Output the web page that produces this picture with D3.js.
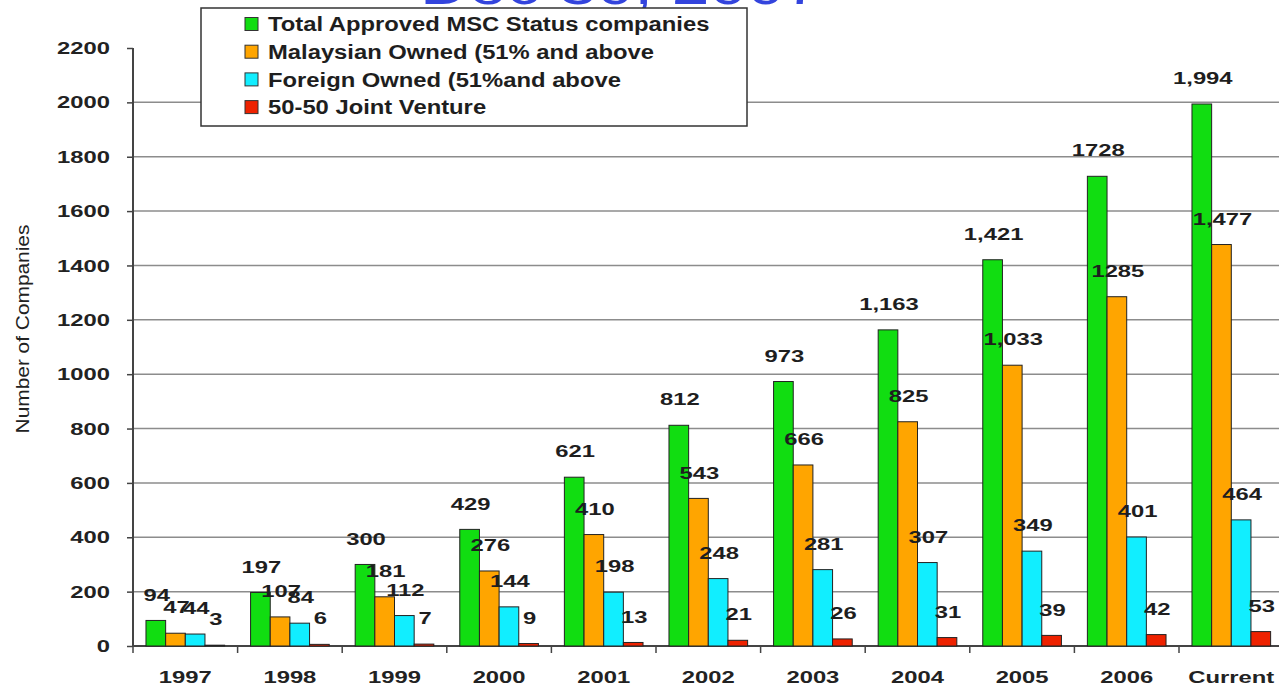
<!DOCTYPE html>
<html>
<head>
<meta charset="utf-8">
<script src="https://cdn.jsdelivr.net/npm/d3@7"></script>
<style>
  body { margin: 0; background: #fff; }
  svg { display: block; font-family: "Liberation Sans", Arial, sans-serif; }
</style>
</head>
<body>
<div id="chart-area"></div>
<script>
const categories = ["1997", "1998", "1999", "2000", "2001", "2002", "2003", "2004", "2005", "2006", "Current"]
const totalApproved = [94, 197, 300, 429, 621, 812, 973, 1163, 1421, 1728, 1994]
const malaysianOwned = [47, 107, 181, 276, 410, 543, 666, 825, 1033, 1285, 1477]
const foreignOwned = [44, 84, 112, 144, 198, 248, 281, 307, 349, 401, 464]
const jointVenture = [3, 6, 7, 9, 13, 21, 26, 31, 39, 42, 53]
const seriesNames = ["Total Approved MSC Status companies", "Malaysian Owned (51% and above",
  "Foreign Owned (51%and above", "50-50 Joint Venture"]
const yTicks = [0, 200, 400, 600, 800, 1000, 1200, 1400, 1600, 1800, 2000, 2200]
const noComma = [1728, 1285] // printed without thousands separator in the original

const COLORS = ["#11dd11", "#ffa500", "#11eeff", "#ee2200"]
const W = 1279, H = 691
const MARGIN = { LEFT: 133, TOP: 48, BOTTOM: 45 }
const BAND = 104.6

const series = [totalApproved, malaysianOwned, foreignOwned, jointVenture]

const svg = d3.select("#chart-area").append("svg")
  .attr("width", W)
  .attr("height", H)

// title, mostly cut off at the top edge of the picture
svg.append("text")
  .attr("transform", "translate(420,4) scale(1.3,1)")
  .attr("font-size", "52px")
  .attr("fill", "#3344dd")
  .text("Dec 30, 2007")

const x0 = d3.scaleBand()
  .domain(categories)
  .range([MARGIN.LEFT, MARGIN.LEFT + BAND * categories.length])
  .paddingInner(0)

const x1 = d3.scaleBand()
  .domain(d3.range(series.length))
  .range([0, x0.bandwidth()])
  .paddingOuter(0.66)
  .paddingInner(0)

const y = d3.scaleLinear()
  .domain([0, 2200])
  .range([H - MARGIN.BOTTOM, MARGIN.TOP])

// gridlines
svg.append("g").selectAll("line")
  .data(yTicks.filter(t => t > 0 && t < 2200))
  .enter().append("line")
  .attr("x1", MARGIN.LEFT).attr("x2", W)
  .attr("y1", d => y(d)).attr("y2", d => y(d))
  .attr("stroke", "#8c8c8c")
  .attr("stroke-width", 1.5)

// y axis
const yAxis = svg.append("g")
  .attr("transform", `translate(${MARGIN.LEFT},0)`)
  .call(d3.axisLeft(y).tickValues(yTicks).tickSize(6).tickPadding(0).tickFormat(""))
yAxis.select(".domain").attr("stroke", "#444").attr("stroke-width", 2).attr("d", `M0,${y(2200)}V${y(0)}`)
yAxis.selectAll(".tick line").attr("stroke", "#444").attr("stroke-width", 1.5)

svg.append("g").selectAll("text")
  .data(yTicks)
  .enter().append("text")
  .attr("transform", d => `translate(110,${y(d)}) scale(1.4,1)`)
  .attr("text-anchor", "end")
  .attr("dy", "0.36em")
  .attr("font-size", "17px")
  .attr("font-weight", "bold")
  .attr("fill", "#222")
  .text(d => d)

// x axis
const xAxisY = y(0)
svg.append("line")
  .attr("x1", MARGIN.LEFT).attr("x2", W)
  .attr("y1", xAxisY).attr("y2", xAxisY)
  .attr("stroke", "#444").attr("stroke-width", 2)

svg.append("g").selectAll("line")
  .data(categories)
  .enter().append("line")
  .attr("x1", d => x0(d)).attr("x2", d => x0(d))
  .attr("y1", xAxisY).attr("y2", xAxisY + 7)
  .attr("stroke", "#444").attr("stroke-width", 1.5)

svg.append("g").selectAll("text")
  .data(categories)
  .enter().append("text")
  .attr("transform", d => `translate(${x0(d) + x0.bandwidth() / 2},${xAxisY + 31}) scale(1.4,1)`)
  .attr("text-anchor", "middle")
  .attr("dy", "0.36em")
  .attr("font-size", "17px")
  .attr("font-weight", "bold")
  .attr("fill", "#222")
  .text(d => d)

// bars
const fmt = v => noComma.includes(v) ? String(v) : d3.format(",")(v)

series.forEach((vals, si) => {
  const g = svg.append("g")
  g.selectAll("rect")
    .data(vals)
    .enter().append("rect")
    .attr("x", (d, i) => x0(categories[i]) + x1(si))
    .attr("y", d => y(d))
    .attr("width", x1.bandwidth())
    .attr("height", d => y(0) - y(d))
    .attr("fill", COLORS[si])
    .attr("stroke", "#222")
    .attr("stroke-width", 1)
})

// value labels drawn after all bars so they sit on top
series.forEach((vals, si) => {
  svg.append("g").selectAll("text")
    .data(vals)
    .enter().append("text")
    .attr("transform", (d, i) =>
      `translate(${x0(categories[i]) + x1(si) + x1.bandwidth() / 2 + 1},${y(d) - 26}) scale(1.4,1)`)
    .attr("text-anchor", "middle")
    .attr("dy", "0.36em")
    .attr("font-size", "17px")
    .attr("font-weight", "bold")
    .attr("fill", "#1e1e1e")
    .text(d => fmt(d))
})

// y axis title
svg.append("text")
  .attr("transform", "translate(23,329) rotate(-90) scale(1.16,1)")
  .attr("text-anchor", "middle")
  .attr("dy", "0.35em")
  .attr("font-size", "18px")
  .attr("fill", "#222")
  .text("Number of Companies")

// legend, on top of the title
const legend = svg.append("g")
legend.append("rect")
  .attr("x", 201).attr("y", 8)
  .attr("width", 546).attr("height", 118)
  .attr("fill", "#fff")
  .attr("stroke", "#333")
  .attr("stroke-width", 1.5)

const rows = legend.selectAll("g.row")
  .data(seriesNames)
  .enter().append("g")
  .attr("class", "row")
  .attr("transform", (d, i) => `translate(245,${24 + i * 27.7})`)

rows.append("rect")
  .attr("x", 0).attr("y", -6.5)
  .attr("width", 13).attr("height", 13)
  .attr("fill", (d, i) => COLORS[i])
  .attr("stroke", "#333")
  .attr("stroke-width", 1)

rows.append("text")
  .attr("transform", "translate(23,0) scale(1.19,1)")
  .attr("dy", "0.36em")
  .attr("font-size", "20px")
  .attr("font-weight", "bold")
  .attr("fill", "#1e1e1e")
  .text(d => d)
</script>
</body>
</html>
